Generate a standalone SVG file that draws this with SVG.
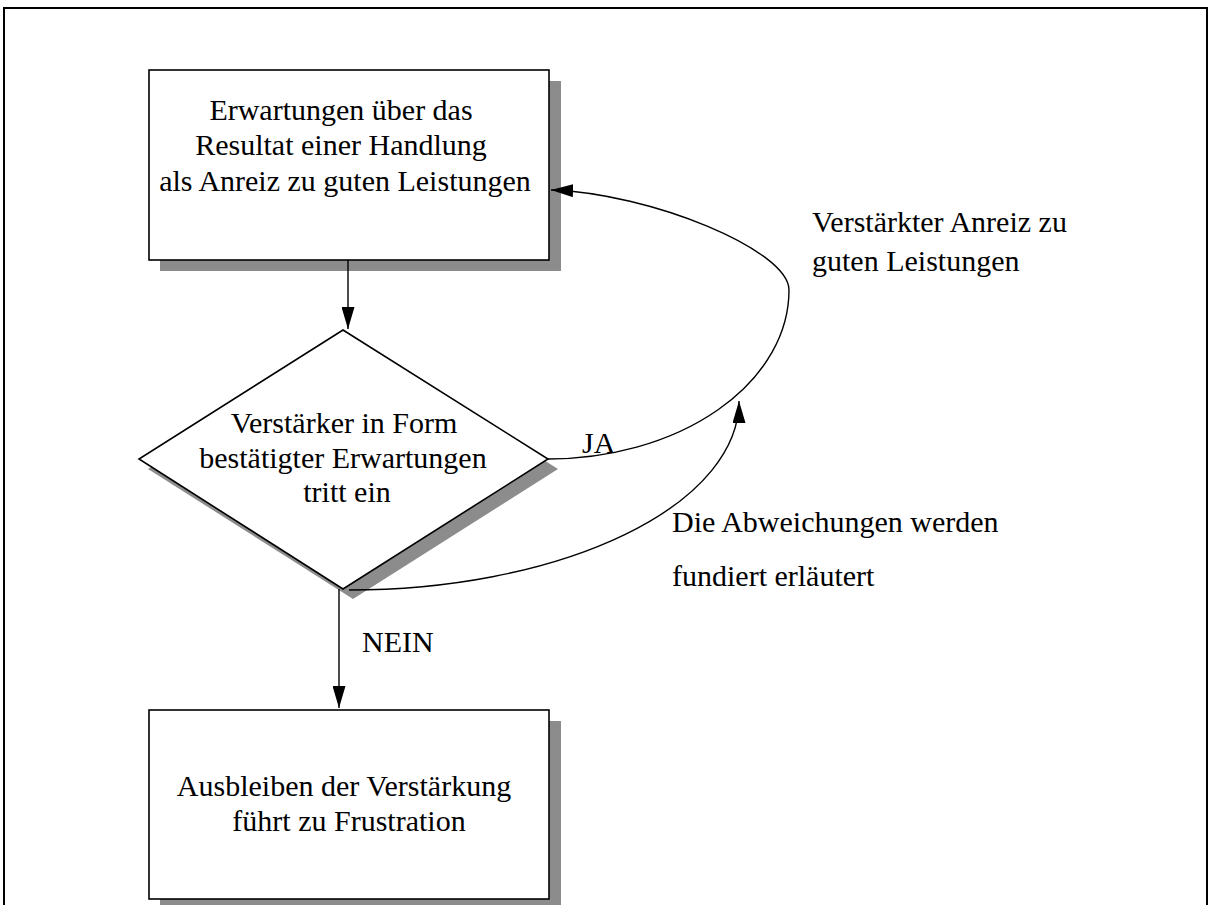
<svg xmlns="http://www.w3.org/2000/svg" width="1210" height="905" viewBox="0 0 1210 905">
  <defs>
    <style>
      .txt { font-family: "Liberation Serif", "Times New Roman", serif; font-size: 30px; fill: #000; }
      .mid { text-anchor: middle; }
      .box { fill: #fff; stroke: #000; stroke-width: 1.6; }
      .shadow { fill: #8c8c8c; stroke: none; }
      .conn { fill: none; stroke: #000; stroke-width: 1.4; }
      .frame { fill: none; stroke: #000; stroke-width: 2; }
    </style>
    <marker id="arrow" viewBox="0 0 22 13" refX="22" refY="6.5" markerWidth="22" markerHeight="13" markerUnits="userSpaceOnUse" orient="auto">
      <path d="M0,0 L22,6.5 L0,13 z" fill="#000"/>
    </marker>
  </defs>

  <rect width="1210" height="905" fill="#fff"/>

  <!-- page frame, open at the bottom -->
  <path class="frame" d="M4,905 V8 H1207 V905"/>

  <!-- expectation box -->
  <g id="node-expectation">
    <rect class="shadow" x="160" y="81" width="401" height="190"/>
    <rect class="box" x="149" y="70" width="400" height="190"/>
    <text class="txt mid" x="341" y="120">Erwartungen über das</text>
    <text class="txt mid" x="341" y="155">Resultat einer Handlung</text>
    <text class="txt mid" x="345" y="191">als Anreiz zu guten Leistungen</text>
  </g>

  <!-- decision diamond -->
  <g id="node-decision">
    <polygon class="shadow" points="353,340 558,469 353,599 148,469"/>
    <polygon class="box" points="343,330 548,459 343,589 139,459"/>
    <text class="txt mid" x="344" y="433">Verstärker in Form</text>
    <text class="txt mid" x="343" y="468">bestätigter Erwartungen</text>
    <text class="txt mid" x="347" y="502">tritt ein</text>
  </g>

  <!-- frustration box -->
  <g id="node-frustration">
    <rect class="shadow" x="160" y="721" width="401" height="190"/>
    <rect class="box" x="149" y="710" width="400" height="189"/>
    <text class="txt mid" x="344" y="796">Ausbleiben der Verstärkung</text>
    <text class="txt mid" x="349" y="831">führt zu Frustration</text>
  </g>

  <!-- connectors -->
  <g id="connectors">
    <path class="conn" d="M348,260 V329" marker-end="url(#arrow)"/>
    <path class="conn" d="M339,589 V708" marker-end="url(#arrow)"/>
    <path class="conn" d="M548,459 A241,169 0 0 0 789,290 C789,250 650,193 551,190" marker-end="url(#arrow)"/>
    <path class="conn" d="M349,590 A390,189 0 0 0 739,401" marker-end="url(#arrow)"/>
  </g>

  <!-- connector labels -->
  <g id="labels">
    <text class="txt" x="582" y="453">JA</text>
    <text class="txt" x="362" y="652">NEIN</text>
    <text class="txt" x="812" y="232">Verstärkter Anreiz zu</text>
    <text class="txt" x="812" y="271">guten Leistungen</text>
    <text class="txt" x="672" y="532">Die Abweichungen werden</text>
    <text class="txt" x="672" y="586">fundiert erläutert</text>
  </g>
</svg>
